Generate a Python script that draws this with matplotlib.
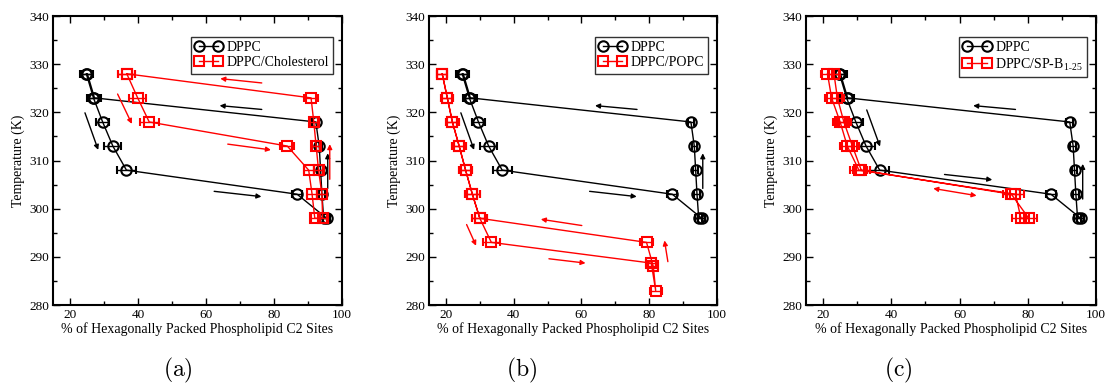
import matplotlib
matplotlib.use("Agg")
import matplotlib.pyplot as plt
from matplotlib.lines import Line2D

plt.rcParams['font.family'] = ['Liberation Serif', 'DejaVu Serif']
plt.rcParams['mathtext.fontset'] = 'cm'

# ---------------- data ----------------
# DPPC (same in all panels): cooling then heating loop
dppc_T = [328, 323, 318, 313, 308, 303, 298, 298, 303, 308, 313, 318, 323, 328]
dppc_x = [24.8, 26.9, 29.6, 32.6, 36.6, 86.8, 95.5, 94.6, 94.1, 93.7, 93.3, 92.3, 27.2, 25.1]
dppc_err = [1.8, 2.0, 2.0, 2.5, 2.8, 1.5, 1.0, 1.0, 0.8, 0.8, 0.8, 1.0, 2.0, 1.8]

# DPPC/Cholesterol
chol_T = [328, 323, 318, 313, 308, 303, 298, 298, 303, 308, 313, 318, 323, 328]
chol_x = [36.7, 39.9, 43.3, 83.9, 90.2, 91.2, 92.0, 94.3, 94.1, 93.1, 92.4, 91.7, 90.9, 36.7]
chol_err = [2.5, 2.5, 2.8, 2.0, 1.5, 1.5, 1.2, 1.2, 1.5, 1.2, 1.2, 1.2, 2.0, 2.5]

# DPPC/POPC
popc_T = [328, 323, 318, 313, 308, 303, 298, 293, 288.7, 283, 288, 293, 298, 303, 308, 313, 318, 323, 328]
popc_x = [18.9, 20.4, 21.9, 23.9, 25.8, 27.8, 30.0, 33.4, 80.6, 81.9, 81.2, 79.2, 30.0, 27.8, 25.8, 23.9, 21.9, 20.4, 18.9]
popc_err = [1.5, 1.8, 2.0, 2.0, 2.0, 2.2, 2.2, 2.5, 1.5, 1.8, 1.5, 1.8, 2.2, 2.2, 2.0, 2.0, 2.0, 1.8, 1.5]

# DPPC/SP-B1-25
spb_T = [328, 323, 318, 313, 308, 303, 298, 298, 303, 308, 313, 318, 323, 328]
spb_x = [21.3, 22.5, 25.0, 27.1, 30.5, 76.4, 78.0, 80.3, 75.2, 31.2, 28.6, 26.1, 24.2, 23.2]
spb_err = [1.8, 1.8, 2.0, 2.0, 2.5, 2.5, 2.5, 2.5, 2.5, 2.5, 2.0, 2.0, 1.8, 1.8]

# direction arrows (tail x, tail T, head x, head T, colour)
dppc_arrows_ab = [
    (76.4, 320.6, 64.0, 321.4, 'k'),
    (24.4, 319.9, 28.3, 312.2, 'k'),
    (62.4, 303.6, 76.3, 302.5, 'k'),
    (95.8, 304.2, 95.8, 311.5, 'k'),
]
dppc_arrows_c = [
    (76.4, 320.6, 64.0, 321.4, 'k'),
    (32.8, 320.5, 36.7, 312.9, 'k'),
    (55.6, 307.1, 69.6, 306.0, 'k'),
    (96.1, 302.0, 96.1, 309.3, 'k'),
]
chol_arrows = [
    (76.4, 326.1, 64.2, 327.0, 'r'),
    (34.0, 323.8, 38.2, 317.6, 'r'),
    (66.4, 313.4, 79.1, 312.2, 'r'),
    (96.4, 306.1, 96.4, 313.4, 'r'),
]
popc_arrows = [
    (60.1, 296.5, 48.0, 297.8, 'r'),
    (26.1, 296.7, 28.9, 292.3, 'r'),
    (50.4, 289.6, 61.2, 288.7, 'r'),
    (85.5, 289.0, 84.5, 293.4, 'r'),
]

panels = [
    dict(label='DPPC/Cholesterol', T=chol_T, x=chol_x, err=chol_err,
         arrows=dppc_arrows_ab + chol_arrows, dbl=[], left=53, width=289, cap='(a)', capx=178),
    dict(label='DPPC/POPC', T=popc_T, x=popc_x, err=popc_err,
         arrows=dppc_arrows_ab + popc_arrows, dbl=[], left=429, width=288, cap='(b)', capx=522),
    dict(label='DPPC/SP-B$_{\\mathregular{1\\text{-}25}}$', T=spb_T, x=spb_x, err=spb_err,
         arrows=dppc_arrows_c, dbl=[(52.3, 304.2, 65.0, 302.7, 'r')], left=806, width=290, cap='(c)', capx=898),
]

W, H = 1106, 385
fig = plt.figure(figsize=(W / 100, H / 100), dpi=100)

for p in panels:
    ax = fig.add_axes([p['left'] / W, (H - 305) / H, p['width'] / W, 289 / H])
    common = dict(lw=1.0, ms=7.5, mew=1.5, mfc='none', capsize=3, elinewidth=1.0, capthick=1.0)
    ax.errorbar(dppc_x, dppc_T, xerr=dppc_err, fmt='-o', color='k', mec='k', zorder=2, **common)
    ax.errorbar(p['x'], p['T'], xerr=p['err'], fmt='-s', color='red', mec='red', zorder=3,
                **dict(common, ms=6.5))
    for (x0, y0, x1, y1, c) in p['arrows']:
        ax.annotate('', xy=(x1, y1), xytext=(x0, y0),
                    arrowprops=dict(arrowstyle='-|>', color=c, lw=1.0, mutation_scale=7,
                                    shrinkA=0, shrinkB=0))
    for (x0, y0, x1, y1, c) in p['dbl']:
        ax.annotate('', xy=(x1, y1), xytext=(x0, y0),
                    arrowprops=dict(arrowstyle='<|-|>', color=c, lw=1.0, mutation_scale=7,
                                    shrinkA=0, shrinkB=0))
    ax.set_xlim(15, 100)
    ax.set_ylim(280, 340)
    ax.set_xticks([20, 40, 60, 80, 100])
    ax.set_xticks([30, 50, 70, 90], minor=True)
    ax.set_yticks(range(280, 341, 10))
    ax.set_yticks(range(285, 340, 10), minor=True)
    ax.tick_params(which='both', direction='in', top=True, right=True, labelsize=9.5, width=1.0, pad=3)
    ax.tick_params(which='major', length=5)
    ax.tick_params(which='minor', length=3)
    for s in ax.spines.values():
        s.set_linewidth(1.5)
    ax.set_xlabel('% of Hexagonally Packed Phospholipid C2 Sites', fontsize=10, labelpad=1)
    ax.set_ylabel('Temperature (K)', fontsize=10, labelpad=3)
    handles = [
        Line2D([0], [0], color='k', marker='o', mfc='none', mec='k', ms=7.5, mew=1.5, lw=1.0),
        Line2D([0], [0], color='red', marker='s', mfc='none', mec='red', ms=6.5, mew=1.5, lw=1.0),
    ]
    leg = ax.legend(handles, ['DPPC', p['label']], loc='upper right', bbox_to_anchor=(0.97, 0.927),
                    fontsize=10, frameon=True, fancybox=False, numpoints=2, handlelength=2.0,
                    handletextpad=0.3, borderpad=0.3, labelspacing=0.15, borderaxespad=0)
    leg.get_frame().set_edgecolor('k')
    leg.get_frame().set_linewidth(1.0)
    fig.text(p['capx'] / W, (H - 370) / H, '$\\mathrm{' + p['cap'] + '}$', ha='center', va='center',
             fontsize=17)

fig.savefig('out.png', dpi=100)
